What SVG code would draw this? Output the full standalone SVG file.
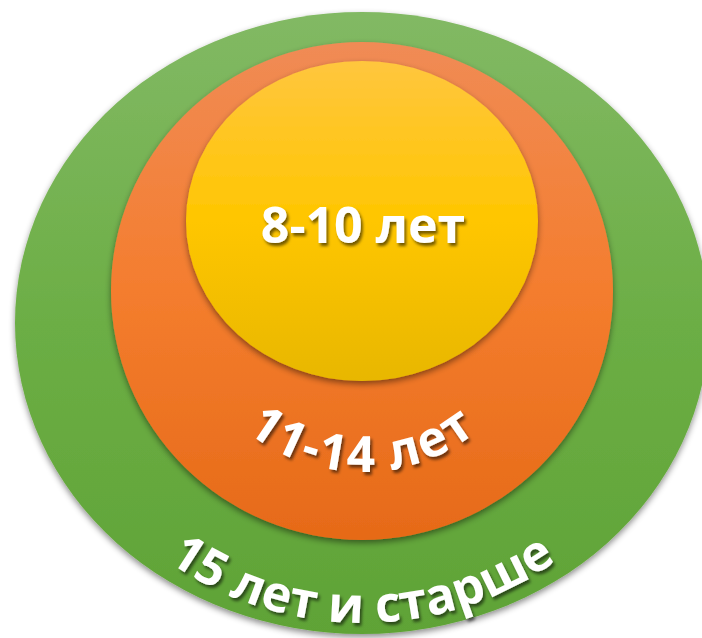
<svg xmlns="http://www.w3.org/2000/svg" width="702" height="638" viewBox="0 0 702 638">
  <defs>
    <linearGradient id="gGreen" x1="0" y1="0" x2="0" y2="1">
      <stop offset="0" stop-color="#82b964"/>
      <stop offset="0.5" stop-color="#6cae45"/>
      <stop offset="1" stop-color="#5fa336"/>
    </linearGradient>
    <linearGradient id="gOrange" x1="0" y1="0" x2="0" y2="1">
      <stop offset="0" stop-color="#f08b55"/>
      <stop offset="0.5" stop-color="#f47d2e"/>
      <stop offset="1" stop-color="#e66a18"/>
    </linearGradient>
    <linearGradient id="gYellow" x1="0" y1="0" x2="0" y2="1">
      <stop offset="0" stop-color="#ffc63e"/>
      <stop offset="0.5" stop-color="#ffc600"/>
      <stop offset="1" stop-color="#e8b700"/>
    </linearGradient>
    <filter id="shapeShadow" x="-10%" y="-10%" width="120%" height="125%">
      <feDropShadow dx="0" dy="3" stdDeviation="3" flood-color="#000" flood-opacity="0.45"/>
    </filter>
    <filter id="textShadow" x="-10%" y="-20%" width="130%" height="150%">
      <feDropShadow dx="2" dy="3" stdDeviation="1.5" flood-color="#000" flood-opacity="0.55"/>
    </filter>
    <path id="arcOrange" d="M 178 288 A 184 184 0 0 0 546 288"/>
    <path id="arcGreen" d="M 27 288 A 335 335 0 0 0 697 288"/>
  </defs>
  <style>
    .lbl { font-family: "Open Sans", "DejaVu Sans", sans-serif; font-weight: bold; fill: #ffffff; filter: url(#textShadow); }
  </style>
  <rect width="702" height="638" fill="#ffffff"/>
  <g id="node-15plus">
    <ellipse cx="362" cy="323" rx="347" ry="311" fill="url(#gGreen)" filter="url(#shapeShadow)"/>
  </g>
  <g id="node-11-14">
    <ellipse cx="362" cy="291" rx="251" ry="249" fill="url(#gOrange)" filter="url(#shapeShadow)"/>
  </g>
  <g id="node-8-10">
    <ellipse cx="362" cy="221" rx="176" ry="160" fill="url(#gYellow)" filter="url(#shapeShadow)"/>
    <text class="lbl" x="363" y="243" font-size="50" text-anchor="middle">8-10 лет</text>
  </g>
  <g id="label-11-14">
    <text class="lbl" font-size="50" letter-spacing="2"><textPath href="#arcOrange" startOffset="50%" text-anchor="middle">11-14 лет</textPath></text>
  </g>
  <g id="label-15plus">
    <text class="lbl" font-size="50"><textPath href="#arcGreen" startOffset="50%" text-anchor="middle">15 лет и старше</textPath></text>
  </g>
</svg>
